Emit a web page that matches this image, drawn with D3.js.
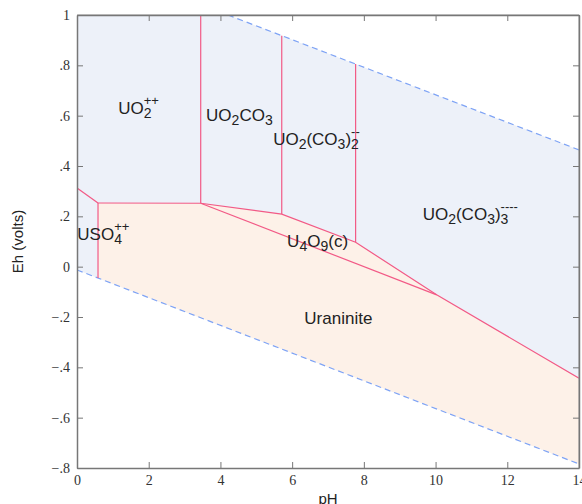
<!DOCTYPE html>
<html>
<head>
<meta charset="utf-8">
<script src="https://cdn.jsdelivr.net/npm/d3@7"></script>
<style>
  body { margin: 0; background: #fff; }
  .tick text { font-family: "Liberation Serif", serif; font-size: 14px; fill: #333; }
  .lbl { font-family: "Liberation Sans", Arial, sans-serif; font-size: 17px; fill: #222; }
</style>
</head>
<body>
<svg width="582" height="504"></svg>
<script>
var svg = d3.select("svg"),
  margin = { top: 15, right: 3, bottom: 36, left: 77 },
  width = +svg.attr("width") - margin.left - margin.right,
  height = +svg.attr("height") - margin.top - margin.bottom;

// water stability limits (pH, Eh)
var waterUpper = [[4.21, 1.0], [14, 0.464]];
var waterLower = [[0, -0.013], [14, -0.784]];

// field boundaries
var uraniniteTop = [[0.586, 0.253], [3.45, 0.252], [5.71, 0.209], [7.77, 0.097], [10.03, -0.112], [14, -0.443]];
var uso4Edge = [[0, 0.313], [0.586, 0.253]];
var uso4Wall = [[0.586, 0.253], [0.586, -0.045]];
var u4o9Bottom = [[3.45, 0.252], [10.03, -0.112]];
var verticals = [
  [[3.45, 0.252], [3.45, 1.0]],
  [[5.71, 0.209], [5.71, 0.918]],
  [[7.77, 0.097], [7.77, 0.805]]
];

var xTicks = [0, 2, 4, 6, 8, 10, 12, 14];
var yTicks = [-0.8, -0.6, -0.4, -0.2, 0, 0.2, 0.4, 0.6, 0.8, 1];

// species labels: [pH, Eh, parts]
var labels = [
  [1.15, 0.605, [["UO", ""], ["2", "sub"], ["++", "sup"]]],
  [3.6, 0.58, [["UO", ""], ["2", "sub"], ["CO", ""], ["3", "sub"]]],
  [5.47, 0.484, [["UO", ""], ["2", "sub"], ["(CO", ""], ["3", "sub"], [")", ""], ["2", "sub"], ["--", "sup"]]],
  [9.64, 0.186, [["UO", ""], ["2", "sub"], ["(CO", ""], ["3", "sub"], [")", ""], ["3", "sub"], ["----", "sup"]]],
  [0.01, 0.106, [["USO", ""], ["4", "sub"], ["++", "sup"]]],
  [5.86, 0.079, [["U", ""], ["4", "sub"], ["O", ""], ["9", "sub"], ["(c)", ""]]],
  [6.34, -0.229, [["Uraninite", ""]]]
];

var x = d3.scaleLinear().domain([0, 14]).range([0, width]);
var y = d3.scaleLinear().domain([-0.8, 1]).range([height, 0]);

var g = svg.append("g").attr("transform", "translate(" + margin.left + "," + margin.top + ")");

g.append("clipPath").attr("id", "clip")
  .append("rect").attr("width", width).attr("height", height);

var line = d3.line().x(function (d) { return x(d[0]); }).y(function (d) { return y(d[1]); });

var plot = g.append("g").attr("clip-path", "url(#clip)");

// water field
var waterPoly = [[0, 1]].concat(waterUpper, waterLower.slice().reverse());
plot.append("path").attr("d", line(waterPoly) + "Z").attr("fill", "#edf1f9");

// uraninite + U4O9 field
var lowAt = function (ph) {
  var a = waterLower[0], b = waterLower[1];
  return a[1] + (b[1] - a[1]) * (ph - a[0]) / (b[0] - a[0]);
};
var peach = uraniniteTop.concat([[14, lowAt(14)], [0.586, lowAt(0.586)]]);
plot.append("path").attr("d", line(peach) + "Z").attr("fill", "#fdf1e8");

// dashed water lines
[waterUpper, waterLower].forEach(function (w) {
  plot.append("path").attr("d", line(w))
    .attr("fill", "none").attr("stroke", "#7ea3f5")
    .attr("stroke-width", 1.2).attr("stroke-dasharray", "6,4");
});

// boundaries
[uraniniteTop, uso4Edge, uso4Wall, u4o9Bottom].concat(verticals).forEach(function (b) {
  plot.append("path").attr("d", line(b))
    .attr("fill", "none").attr("stroke", "#f25a86").attr("stroke-width", 1.2);
});

// labels
labels.forEach(function (l) {
  var t = g.append("text").attr("class", "lbl")
    .attr("x", x(l[0])).attr("y", y(l[1]));
  var shift = 0, lastSub = null;
  l[2].forEach(function (p) {
    var target = p[1] === "sub" ? 4 : p[1] === "sup" ? -9 : 0;
    var ts = t.append("tspan").text(p[0]).attr("dy", target - shift);
    shift = target;
    if (p[1] === "sub") ts.style("font-size", "14px");
    if (p[1] === "sup") {
      ts.style("font-size", "13px");
      if (lastSub) ts.attr("dx", -lastSub.node().getComputedTextLength());
    }
    lastSub = p[1] === "sub" ? ts : null;
  });
});

// frame
var frame = g.append("g").attr("fill", "none");
frame.append("line").attr("x1", 0).attr("x2", width).attr("y1", 0).attr("y2", 0).attr("stroke", "#999");
frame.append("line").attr("x1", width).attr("x2", width).attr("y1", 0).attr("y2", height).attr("stroke", "#999");

function fmt(v) {
  if (Math.abs(v) < 1e-9) return "0";
  var s = d3.format(".1f")(Math.abs(v)).replace(/^0/, "").replace(/\.0$/, "");
  return (v < 0 ? "\u2212" : "") + s;
}

g.append("g").attr("transform", "translate(0," + height + ")")
  .call(d3.axisBottom(x).tickValues(xTicks).tickSizeInner(-6).tickSizeOuter(0).tickPadding(7).tickFormat(d3.format("d")));
g.append("g")
  .call(d3.axisLeft(y).tickValues(yTicks).tickSizeInner(-6).tickSizeOuter(0).tickPadding(7).tickFormat(fmt));
g.append("g").call(d3.axisTop(x).tickValues(xTicks).tickSizeInner(-6).tickSizeOuter(0).tickFormat(""));
g.append("g").attr("transform", "translate(" + width + ",0)")
  .call(d3.axisRight(y).tickValues(yTicks).tickSizeInner(-6).tickSizeOuter(0).tickFormat(""));

g.selectAll(".domain").attr("stroke", "#777").attr("stroke-width", 1.5);
g.selectAll(".tick line").attr("stroke", "#777");

svg.append("text").attr("class", "lbl")
  .attr("x", margin.left + width / 2).attr("y", 504)
  .attr("text-anchor", "middle").style("font-size", "15px").text("pH");
svg.append("text").attr("class", "lbl")
  .attr("transform", "translate(23," + (margin.top + height / 2) + ") rotate(-90)")
  .attr("text-anchor", "middle").style("font-size", "15px").text("Eh (volts)");
</script>
</body>
</html>
